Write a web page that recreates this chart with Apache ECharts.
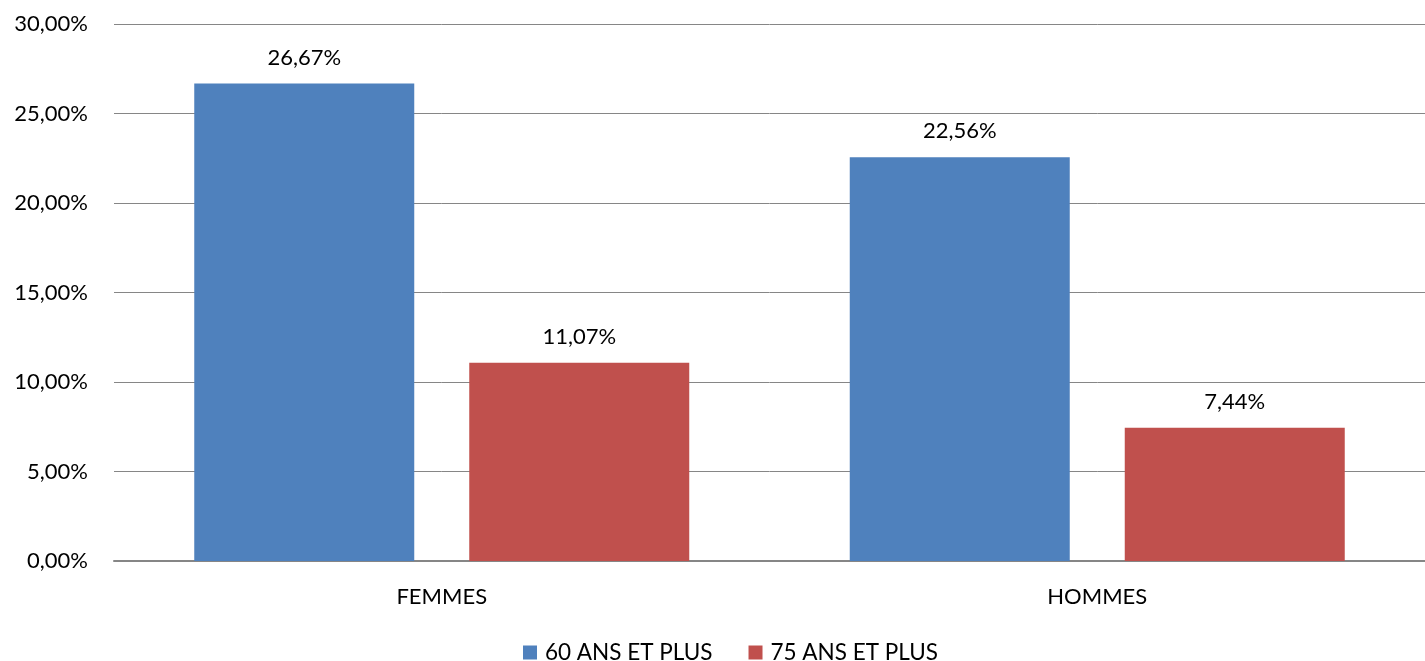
<!DOCTYPE html>
<html><head><meta charset="utf-8">
<script src="https://cdn.jsdelivr.net/npm/echarts@6/dist/echarts.min.js"></script>
<style>html,body{margin:0;padding:0;background:#fff}#c{width:1425px;height:661px}</style>
</head><body><div id="c"></div>
<script>
const categories = ['FEMMES', 'HOMMES'];
const seriesNames = ['60 ANS ET PLUS', '75 ANS ET PLUS'];
const values60 = [26.67, 22.56];
const values75 = [11.07, 7.44];
const FONT = 'Lato, "Open Sans", sans-serif';
const fmt = v => v.toFixed(2).replace('.', ',') + '%';
const chart = echarts.init(document.getElementById('c'));
chart.setOption({
  animation: false,
  textStyle: { fontFamily: FONT },
  grid: { left: 114, width: 1318, top: 24, height: 537, containLabel: false },
  legend: {
    left: 518, top: 636, itemWidth: 14, itemHeight: 14, itemGap: 36, icon: 'rect',
    textStyle: { fontFamily: FONT, fontSize: 22.5, color: '#000', padding: [0, 0, 0, 3] },
    data: seriesNames
  },
  xAxis: {
    type: 'category', data: categories,
    axisLine: { lineStyle: { color: '#868686', width: 2 } },
    axisTick: { show: false },
    axisLabel: { fontFamily: FONT, fontSize: 22, color: '#000', margin: 25 }
  },
  yAxis: {
    type: 'value', min: 0, max: 30, interval: 5,
    axisLine: { show: false }, axisTick: { show: false },
    splitLine: { lineStyle: { color: '#868686', width: 1 } },
    axisLabel: { fontFamily: FONT, fontSize: 22, color: '#000', margin: 26, formatter: v => fmt(v) }
  },
  series: [
    { name: seriesNames[0], type: 'bar', data: values60, barWidth: 220, barGap: '25%',
      itemStyle: { color: '#4F81BD' },
      label: { show: true, position: 'top', distance: 15, fontFamily: FONT, fontSize: 22, color: '#000', formatter: p => fmt(p.value) } },
    { name: seriesNames[1], type: 'bar', data: values75, barWidth: 220,
      itemStyle: { color: '#C0504D' },
      label: { show: true, position: 'top', distance: 15, fontFamily: FONT, fontSize: 22, color: '#000', formatter: p => fmt(p.value) } }
  ]
});
</script></body></html>
